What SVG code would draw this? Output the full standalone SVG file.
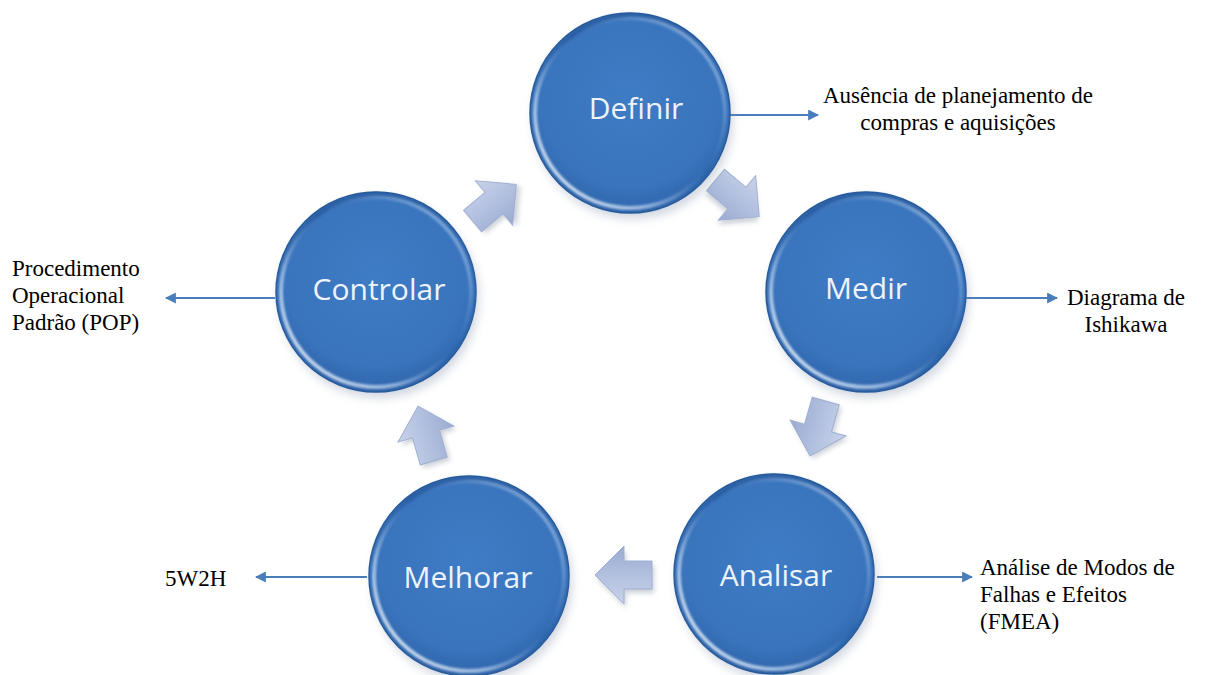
<svg xmlns="http://www.w3.org/2000/svg" width="1205" height="675" viewBox="0 0 1205 675">
  <defs>
    <style>
      .lbl { font-family: "Liberation Serif", "Times New Roman", serif; font-size: 23px; fill: #000; }
      .node-text { font-family: "Open Sans", "Noto Sans", "Liberation Sans", sans-serif; font-size: 30px; fill: #eef3fb; text-anchor: middle; }
      .link { stroke: #4a7ebb; stroke-width: 2; fill: none; marker-end: url(#head); }
      .body { fill: url(#ballFill); stroke: #2b5d9e; stroke-width: 1.5; }
      .rim { fill: none; stroke: url(#rimLight); stroke-width: 4; filter: url(#soft); }
      .topedge { fill: none; stroke: url(#rimDark); stroke-width: 5; filter: url(#soft); }
      .shade { fill: #7f8fa8; opacity: 0.35; filter: url(#blur6); }
      .blk { fill: url(#arrowFill); stroke: #9fb0d2; stroke-width: 1; }
      .blk-shadow { fill: #8c96a8; opacity: 0.45; filter: url(#blur3); }
    </style>
    <radialGradient id="ballFill" cx="0.5" cy="0.42" r="0.6">
      <stop offset="0" stop-color="#3e7cc5"/>
      <stop offset="0.75" stop-color="#3974bc"/>
      <stop offset="1" stop-color="#2e62a8"/>
    </radialGradient>
    <linearGradient id="rimLight" x1="0" y1="1" x2="1" y2="0">
      <stop offset="0" stop-color="#ffffff" stop-opacity="0.95"/>
      <stop offset="0.3" stop-color="#b9d3f2" stop-opacity="0.7"/>
      <stop offset="0.55" stop-color="#5b8fd0" stop-opacity="0"/>
      <stop offset="0.8" stop-color="#9cc1ec" stop-opacity="0.5"/>
      <stop offset="1" stop-color="#d6e6f8" stop-opacity="0.8"/>
    </linearGradient>
    <linearGradient id="rimDark" x1="0" y1="0" x2="0" y2="1">
      <stop offset="0" stop-color="#1d4f93" stop-opacity="0.7"/>
      <stop offset="0.5" stop-color="#1d4f93" stop-opacity="0"/>
      <stop offset="1" stop-color="#1d4f93" stop-opacity="0.2"/>
    </linearGradient>
    <linearGradient id="arrowFill" x1="0" y1="0" x2="0" y2="1">
      <stop offset="0" stop-color="#c9d3e9"/>
      <stop offset="0.5" stop-color="#b2c0df"/>
      <stop offset="1" stop-color="#9aabd0"/>
    </linearGradient>
    <filter id="soft" x="-10%" y="-10%" width="120%" height="120%">
      <feGaussianBlur stdDeviation="1.2"/>
    </filter>
    <filter id="blur6" x="-20%" y="-20%" width="140%" height="140%">
      <feGaussianBlur stdDeviation="5"/>
    </filter>
    <filter id="blur3" x="-30%" y="-30%" width="160%" height="160%">
      <feGaussianBlur stdDeviation="2.5"/>
    </filter>
    <marker id="head" viewBox="0 0 10 10" refX="9" refY="5" markerWidth="5.5" markerHeight="5.5" orient="auto" markerUnits="strokeWidth">
      <path d="M0,0 L10,5 L0,10 z" fill="#4a7ebb"/>
    </marker>
    <!-- block arrow pointing along +x, centred on the origin -->
    <path id="blockArrow" d="M-28,-14 L0,-14 L0,-29 L29,0 L0,29 L0,14 L-28,14 Z"/>
    <g id="ball">
      <circle class="shade" cx="3" cy="6" r="100"/>
      <circle class="body" r="100"/>
      <circle class="topedge" r="97"/>
      <circle class="rim" r="95"/>
    </g>
  </defs>

  <rect width="1205" height="675" fill="#ffffff"/>

  <!-- cycle arrows between the phases -->
  <g id="cycle-arrows">
    <g transform="translate(494,203) rotate(-40)">
      <use href="#blockArrow" class="blk-shadow" x="2" y="4"/>
      <use href="#blockArrow" class="blk"/>
    </g>
    <g transform="translate(737,198) rotate(40)">
      <use href="#blockArrow" class="blk-shadow" x="2" y="4"/>
      <use href="#blockArrow" class="blk"/>
    </g>
    <g transform="translate(818,428) rotate(106)">
      <use href="#blockArrow" class="blk-shadow" x="2" y="-3"/>
      <use href="#blockArrow" class="blk"/>
    </g>
    <g transform="translate(624,575) rotate(180)">
      <use href="#blockArrow" class="blk-shadow" x="-2" y="-4"/>
      <use href="#blockArrow" class="blk"/>
    </g>
    <g transform="translate(426,434) rotate(-106)">
      <use href="#blockArrow" class="blk-shadow" x="-4" y="2"/>
      <use href="#blockArrow" class="blk"/>
    </g>
  </g>

  <!-- connectors from each phase to its tool -->
  <g id="connectors">
    <line class="link" x1="726" y1="115" x2="818" y2="115"/>
    <line class="link" x1="966" y1="298" x2="1057" y2="298"/>
    <line class="link" x1="877" y1="577" x2="972" y2="577"/>
    <line class="link" x1="367" y1="577" x2="256" y2="577"/>
    <line class="link" x1="275" y1="298" x2="166" y2="298"/>
  </g>

  <!-- phases -->
  <g id="node-definir">
    <use href="#ball" x="630" y="113"/>
    <text class="node-text" x="636" y="119">Definir</text>
  </g>
  <g id="node-medir">
    <use href="#ball" x="866" y="292"/>
    <text class="node-text" x="866" y="299">Medir</text>
  </g>
  <g id="node-analisar">
    <use href="#ball" x="774" y="574"/>
    <text class="node-text" x="776" y="586">Analisar</text>
  </g>
  <g id="node-melhorar">
    <use href="#ball" x="469" y="576"/>
    <text class="node-text" x="468" y="588">Melhorar</text>
  </g>
  <g id="node-controlar">
    <use href="#ball" x="376" y="292"/>
    <text class="node-text" x="379" y="300">Controlar</text>
  </g>

  <!-- tool labels -->
  <g id="label-definir">
    <text class="lbl" x="958" y="103" text-anchor="middle">Ausência de planejamento de</text>
    <text class="lbl" x="958" y="130" text-anchor="middle">compras e aquisições</text>
  </g>
  <g id="label-medir">
    <text class="lbl" x="1126" y="305" text-anchor="middle">Diagrama de</text>
    <text class="lbl" x="1126" y="332" text-anchor="middle">Ishikawa</text>
  </g>
  <g id="label-analisar">
    <text class="lbl" x="980" y="575">Análise de Modos de</text>
    <text class="lbl" x="980" y="602">Falhas e Efeitos</text>
    <text class="lbl" x="980" y="629">(FMEA)</text>
  </g>
  <g id="label-melhorar">
    <text class="lbl" x="165" y="586">5W2H</text>
  </g>
  <g id="label-controlar">
    <text class="lbl" x="12" y="276">Procedimento</text>
    <text class="lbl" x="12" y="303">Operacional</text>
    <text class="lbl" x="12" y="330">Padrão (POP)</text>
  </g>
</svg>
